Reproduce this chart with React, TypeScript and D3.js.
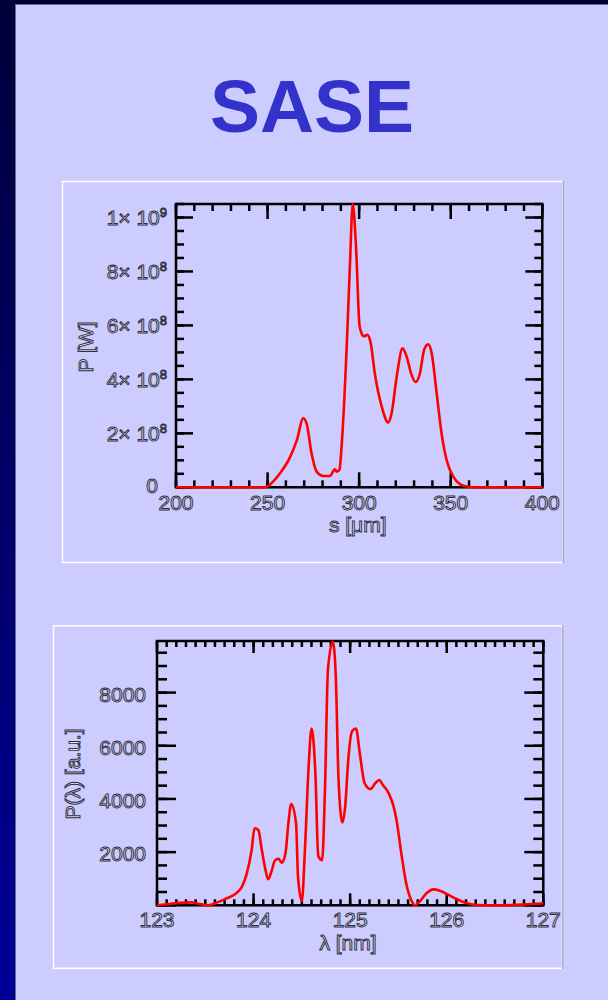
import React from "react";
import * as d3 from "d3";

// ---------- data ----------
// Chart 1: temporal power profile
const sPos = [200, 247.7, 250.4, 253, 256.8, 262, 266, 269.5, 271.3, 274, 276.8, 280.4, 284, 286.8, 287.7, 289.2, 290.4, 293.2, 295, 296.5, 298.3, 300.2, 301.4, 302.6, 304.4, 306.3, 308.6, 312.3, 315.9, 317.7, 320.5, 323.7, 325.9, 328.6, 330.8, 333.1, 335.5, 337.7, 339.6, 342.3, 345, 347.8, 351.4, 355, 359.6, 364, 400];
const powerW = [0, 0, 0.05e8, 0.21e8, 0.52e8, 1.08e8, 1.75e8, 2.56e8, 2.37e8, 1.26e8, 0.58e8, 0.42e8, 0.42e8, 0.67e8, 0.58e8, 0.64e8, 1.5e8, 5.2e8, 8.3e8, 10.5e8, 8.9e8, 6.0e8, 5.7e8, 5.6e8, 5.65e8, 5.35e8, 4.2e8, 3.0e8, 2.4e8, 2.74e8, 4.1e8, 5.15e8, 4.85e8, 4.17e8, 3.9e8, 4.2e8, 5.1e8, 5.3e8, 4.97e8, 3.5e8, 2.0e8, 1.0e8, 0.4e8, 0.12e8, 0.02e8, 0, 0];
const sTicks = [200, 250, 300, 350, 400];
const pTicks = [0, 2e8, 4e8, 6e8, 8e8, 1e9];
const pTickMant = ["0", "2× 10", "4× 10", "6× 10", "8× 10", "1× 10"];
const pTickExp = ["", "8", "8", "8", "8", "9"];

// Chart 2: spectrum
const lambdaNm = [123.0, 123.13, 123.24, 123.36, 123.43, 123.53, 123.62, 123.72, 123.82, 123.88, 123.93, 123.98, 124.01, 124.05, 124.08, 124.12, 124.15, 124.19, 124.22, 124.26, 124.29, 124.33, 124.36, 124.39, 124.44, 124.46, 124.5, 124.53, 124.57, 124.6, 124.64, 124.67, 124.71, 124.74, 124.77, 124.82, 124.85, 124.88, 124.92, 124.95, 124.98, 125.02, 125.06, 125.1, 125.15, 125.21, 125.26, 125.3, 125.34, 125.4, 125.45, 125.48, 125.53, 125.58, 125.64, 125.67, 125.72, 125.79, 125.86, 125.93, 126.02, 126.1, 126.21, 126.31, 126.55, 126.79, 127.0];
const specPow = [0, 50, 90, 110, 60, 0, 100, 260, 450, 700, 1200, 2080, 2900, 2830, 2200, 1390, 980, 1330, 1680, 1750, 1600, 1950, 3080, 3810, 3080, 1080, 160, 1950, 5210, 6650, 4960, 1850, 1700, 4460, 8850, 9910, 8720, 4710, 3120, 3770, 5460, 6550, 6650, 5710, 4590, 4370, 4590, 4710, 4520, 4210, 3710, 3210, 1950, 830, 140, 0, 140, 450, 600, 550, 390, 240, 75, 10, 0, 25, 75];
const lTicks = [123, 124, 125, 126, 127];
const sTicksY = [2000, 4000, 6000, 8000];

const textStyle = {
  fontFamily: "'Liberation Sans', Arial, sans-serif",
  fill: "#e2e2f8",
  stroke: "#2e2e3e",
  strokeWidth: 0.95,
} as const;

function range(a: number, b: number, step: number) {
  const out: number[] = [];
  for (let i = 0; a + i * step <= b + 1e-9; i++) out.push(+(a + i * step).toFixed(6));
  return out;
}

function Frame(props: {
  x: d3.ScaleLinear<number, number>;
  y: d3.ScaleLinear<number, number>;
  xMajor: number[];
  xMinor: number[];
  yMajor: number[];
  yMinor: number[];
  xMaj: number;
  xMin: number;
  yMaj: number;
  yMin: number;
}) {
  const { x, y } = props;
  const [x0, x1] = x.range();
  const [y0, y1] = y.range(); // y0 bottom, y1 top
  const sw = 2.5;
  const lines: JSX.Element[] = [];
  props.xMinor.forEach((v, i) => {
    const px = x(v);
    lines.push(<line key={"xmb" + i} x1={px} x2={px} y1={y0} y2={y0 - props.xMin} />);
    lines.push(<line key={"xmt" + i} x1={px} x2={px} y1={y1} y2={y1 + props.xMin} />);
  });
  props.xMajor.forEach((v, i) => {
    const px = x(v);
    lines.push(<line key={"xMb" + i} x1={px} x2={px} y1={y0} y2={y0 - props.xMaj} />);
    lines.push(<line key={"xMt" + i} x1={px} x2={px} y1={y1} y2={y1 + props.xMaj} />);
  });
  props.yMinor.forEach((v, i) => {
    const py = y(v);
    lines.push(<line key={"yml" + i} x1={x0} x2={x0 + props.yMin} y1={py} y2={py} />);
    lines.push(<line key={"ymr" + i} x1={x1} x2={x1 - props.yMin} y1={py} y2={py} />);
  });
  props.yMajor.forEach((v, i) => {
    const py = y(v);
    lines.push(<line key={"yMl" + i} x1={x0} x2={x0 + props.yMaj} y1={py} y2={py} />);
    lines.push(<line key={"yMr" + i} x1={x1} x2={x1 - props.yMaj} y1={py} y2={py} />);
  });
  return (
    <g stroke="#000" strokeWidth={sw} fill="none">
      {lines}
      <rect x={x0} y={y1} width={x1 - x0} height={y0 - y1} />
    </g>
  );
}

function Chart1() {
  const x = d3.scaleLinear().domain([200, 400]).range([176, 542.3]);
  const y = d3.scaleLinear().domain([0, 1.05e9]).range([487.3, 204]);
  const line = d3
    .line<number>()
    .x((_, i) => x(sPos[i]))
    .y((d) => y(d))
    .curve(d3.curveMonotoneX);
  return (
    <g>
      <rect x={62.5} y={181.5} width={500.5} height={381} fill="#ccccff" stroke="#ffffff" strokeWidth={1.5} />
      <line x1={563.3} x2={563.3} y1={181} y2={563} stroke="#9a9ab8" strokeWidth={1.2} />
      <Frame
        x={x}
        y={y}
        xMajor={sTicks}
        xMinor={range(200, 400, 10)}
        yMajor={pTicks}
        yMinor={range(0, 1.05e9, 5e7)}
        xMaj={15}
        xMin={7}
        yMaj={17}
        yMin={8}
      />
      <path d={line(powerW) || ""} fill="none" stroke="#ff0000" strokeWidth={2.6} strokeLinejoin="round" />
      {sTicks.map((t, i) => (
        <text key={i} x={x(t)} y={510} textAnchor="middle" fontSize={21} style={textStyle}>
          {t}
        </text>
      ))}
      {pTicks.map((t, i) => (
        <text key={i} x={t === 0 ? 158 : 167} y={y(t) + (t === 0 ? 6 : 8)} textAnchor="end" fontSize={21} style={textStyle}>
          {pTickMant[i]}
          {pTickExp[i] ? (
            <tspan fontSize={13} dy={-8}>
              {pTickExp[i]}
            </tspan>
          ) : null}
        </text>
      ))}
      <text x={357.7} y={532} textAnchor="middle" fontSize={21} style={textStyle}>
        s [μm]
      </text>
      <text transform="translate(93,347) rotate(-90)" textAnchor="middle" fontSize={21} style={textStyle}>
        P [W]
      </text>
    </g>
  );
}

function Chart2() {
  const x = d3.scaleLinear().domain([123, 127]).range([157, 543.3]);
  const y = d3.scaleLinear().domain([0, 9940]).range([905.3, 641]);
  const line = d3
    .line<number>()
    .x((_, i) => x(lambdaNm[i]))
    .y((d) => y(d))
    .curve(d3.curveMonotoneX);
  return (
    <g>
      <rect x={53.5} y={625.8} width={509} height={342.5} fill="#ccccff" stroke="#ffffff" strokeWidth={1.5} />
      <line x1={562.8} x2={562.8} y1={625} y2={969} stroke="#9a9ab8" strokeWidth={1.2} />
      <Frame
        x={x}
        y={y}
        xMajor={lTicks}
        xMinor={range(123, 127, 0.1)}
        yMajor={[0, ...sTicksY]}
        yMinor={range(0, 9940, 500)}
        xMaj={12}
        xMin={6}
        yMaj={19}
        yMin={10}
      />
      <path d={line(specPow) || ""} fill="none" stroke="#ff0000" strokeWidth={2.6} strokeLinejoin="round" />
      {lTicks.map((t, i) => (
        <text key={i} x={x(t)} y={926.5} textAnchor="middle" fontSize={21} style={textStyle}>
          {t}
        </text>
      ))}
      {sTicksY.map((t, i) => (
        <text key={i} x={146} y={y(t) + 9} textAnchor="end" fontSize={21} style={textStyle}>
          {t}
        </text>
      ))}
      <text x={348} y={950} textAnchor="middle" fontSize={21} style={textStyle}>
        λ [nm]
      </text>
      <text transform="translate(80,774) rotate(-90)" textAnchor="middle" fontSize={21} style={textStyle}>
        P(λ) [a.u.]
      </text>
    </g>
  );
}

export default function App() {
  return (
    <svg
      width={608}
      height={1000}
      viewBox="0 0 608 1000"
      style={{ position: "absolute", left: 0, top: 0, display: "block" }}
    >
      <defs>
        <linearGradient id="bg" x1="0" y1="0" x2="0" y2="1">
          <stop offset="0" stopColor="#00003a" />
          <stop offset="1" stopColor="#000098" />
        </linearGradient>
      </defs>
      <rect x={0} y={0} width={608} height={1000} fill="url(#bg)" />
      <rect x={0} y={0} width={608} height={4.5} fill="#00003a" />
      <rect x={15.5} y={4.5} width={600} height={1000} fill="#ccccff" stroke="#6a6a8a" strokeWidth={1} />
      <text
        x={312}
        y={132}
        textAnchor="middle"
        fontSize={75}
        fontWeight="bold"
        fontFamily="'Liberation Sans', Arial, sans-serif"
        fill="#3333cc"
      >
        SASE
      </text>
      <Chart1 />
      <Chart2 />
    </svg>
  );
}
